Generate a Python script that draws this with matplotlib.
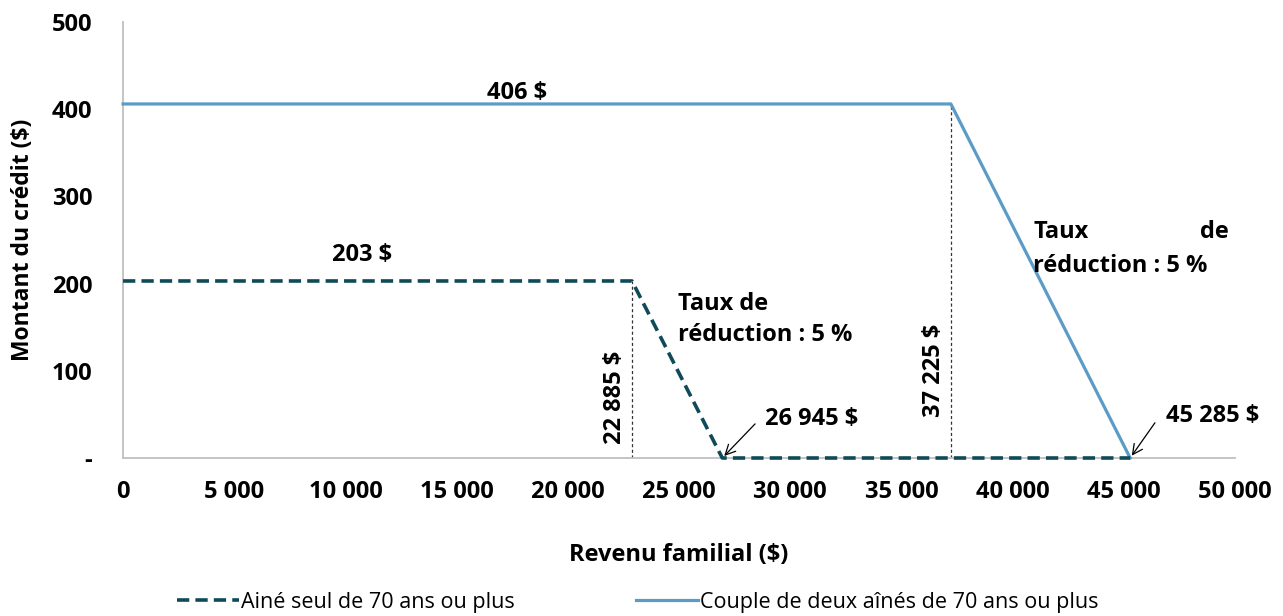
import matplotlib.pyplot as plt
from matplotlib.ticker import FixedLocator

plt.rcParams['font.family'] = ['Open Sans', 'DejaVu Sans']

# crédit pour aînés selon le revenu familial
seul_revenu = [0, 22885, 26945, 45285]
seul_credit = [203, 203, 0, 0]
couple_revenu = [0, 37225, 45285]
couple_credit = [406, 406, 0]

seuil_seul, fin_seul = 22885, 26945
seuil_couple, fin_couple = 37225, 45285
max_seul, max_couple = 203, 406

xticks = [0, 5000, 10000, 15000, 20000, 25000, 30000, 35000, 40000, 45000, 50000]
xlabels = ['0', '5 000', '10 000', '15 000', '20 000', '25 000', '30 000',
           '35 000', '40 000', '45 000', '50 000']
yticks = [0, 100, 200, 300, 400, 500]
ylabels = ['-', '100', '200', '300', '400', '500']

c_seul = '#0E4A58'
c_couple = '#5B9BC5'
grey = '#BFBFBF'

fig = plt.figure(figsize=(12.83, 6.16), dpi=100)
ax = fig.add_axes([0.0959, 0.2565, 0.8667, 0.7078])

ax.plot(couple_revenu, couple_credit, color=c_couple, lw=2.3, clip_on=False,
        label='Couple de deux aînés de 70 ans ou plus', zorder=3)
ax.plot(seul_revenu, seul_credit, color=c_seul, lw=2.6, ls=(0, (3.4, 1.7)),
        clip_on=False, label='Ainé seul de 70 ans ou plus', zorder=4)

# seuils de réduction
ax.vlines([seuil_seul], 0, max_seul, colors='#333333', lw=0.9, ls=(0, (2.5, 2)), zorder=2)
ax.vlines([seuil_couple], 0, max_couple, colors='#333333', lw=0.9, ls=(0, (2.5, 2)), zorder=2)

ax.set_xlim(0, 50000)
ax.set_ylim(0, 500)
ax.xaxis.set_major_locator(FixedLocator(xticks))
ax.set_xticklabels(xlabels)
ax.yaxis.set_major_locator(FixedLocator(yticks))
ax.set_yticklabels(ylabels)
ax.tick_params(length=0, labelsize=17)
ax.tick_params(axis='x', pad=16)
ax.tick_params(axis='y', pad=22)
for lab in ax.get_xticklabels() + ax.get_yticklabels():
    lab.set_fontweight('bold')

for s in ['top', 'right']:
    ax.spines[s].set_visible(False)
for s in ['left', 'bottom']:
    ax.spines[s].set_color(grey)
    ax.spines[s].set_linewidth(1.3)

ax.set_xlabel('Revenu familial ($)', fontsize=17, fontweight='bold', labelpad=28)
ax.set_ylabel('Montant du crédit ($)', fontsize=16.5, fontweight='bold')
ax.yaxis.set_label_coords(-0.079, 0.5)

bold = dict(fontsize=17, fontweight='bold')
ax.text(17700, max_couple + 13, f'{max_couple} $', ha='center', va='center', **bold)
ax.text(10750, max_seul + 30, f'{max_seul} $', ha='center', va='center', **bold)

ax.text(seuil_seul - 750, 69, '22 885 $', rotation=90, ha='center', va='center', **bold)
ax.text(seuil_couple - 750, 101, '37 225 $', rotation=90, ha='center', va='center', **bold)

ax.text(24955, 159, 'Taux de\nréduction : 5 %', ha='left', va='center',
        linespacing=1.4, **bold)
ax.text(40917, 259, 'Taux', ha='left', va='center', **bold)
ax.text(49730, 259, 'de', ha='right', va='center', **bold)
ax.text(40917, 220, 'réduction : 5 %', ha='left', va='center', **bold)

arrow = dict(arrowstyle='->', color='black', lw=0.9, mutation_scale=18)
ax.annotate('', xy=(fin_seul, 0), xytext=(25, 26), textcoords='offset points',
            arrowprops=arrow)
ax.annotate('26 945 $', xy=(fin_seul, 0), xytext=(31, 28), textcoords='offset points',
            ha='left', va='center', **bold)
ax.annotate('', xy=(fin_couple, 0), xytext=(19, 27), textcoords='offset points',
            arrowprops=arrow)
ax.annotate('45 285 $', xy=(fin_couple, 0), xytext=(26, 30), textcoords='offset points',
            ha='left', va='center', **bold)

handles, labels = ax.get_legend_handles_labels()
fig.legend(handles[::-1], labels[::-1], loc='center', bbox_to_anchor=(0.497, 0.022),
           ncol=2, frameon=False, fontsize=15.5, handlelength=2.9, handletextpad=0.1,
           columnspacing=5.6)

fig.savefig('out.png', dpi=100)
